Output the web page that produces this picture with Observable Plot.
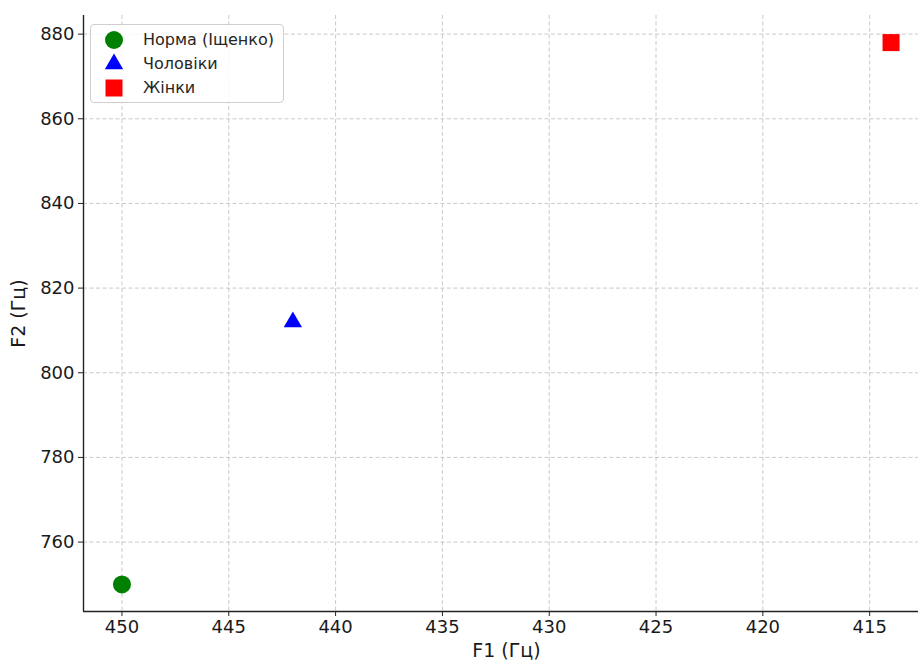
<!DOCTYPE html>
<html>
<head>
<meta charset="utf-8">
<script src="https://cdn.jsdelivr.net/npm/d3@7"></script>
<script src="https://cdn.jsdelivr.net/npm/@observablehq/plot@0.6"></script>
<style>
  html, body { margin: 0; padding: 0; background: #fff; }
  #wrap { position: relative; width: 918px; height: 661px; overflow: hidden; font-family: "DejaVu Sans", sans-serif; }
  #legend { position: absolute; left: 90px; top: 24px; width: 192px; height: 77px; border: 1px solid #cfcfcf; border-radius: 4px; background: rgba(255,255,255,0.85); }
  .row { position: absolute; left: 0; height: 24px; display: flex; align-items: center; }
  .row svg { position: absolute; left: 11px; }
  .row span { position: absolute; left: 52px; font-size: 16px; color: #262626; white-space: nowrap; line-height: 1; }
</style>
</head>
<body>
<div id="wrap"><div id="legend"></div></div>
<script>
const seriesNames = ["Норма (Іщенко)", "Чоловіки", "Жінки"];
const f1Values = [450, 442, 414];
const f2Values = [750, 812, 878];
const seriesColors = ["green", "blue", "red"];
const seriesSymbols = ["circle", "triangle", "square"];
const symbolRadius = [9, 6.8, 9.6];
const xTicks = [450, 445, 440, 435, 430, 425, 420, 415];
const yTicks = [760, 780, 800, 820, 840, 860, 880];

const data = seriesNames.map((name, i) => ({name, f1: f1Values[i], f2: f2Values[i], color: seriesColors[i], symbol: seriesSymbols[i], r: symbolRadius[i]}));

const dotMarks = data.map(d => Plot.dot([d], {x: "f1", y: "f2", fill: d.color, symbol: d.symbol, r: d.r, stroke: "none"}));

const chart = Plot.plot({
  width: 918,
  height: 661,
  marginLeft: 83,
  marginRight: -11,
  marginTop: 15,
  marginBottom: 50,
  style: {fontFamily: "DejaVu Sans, sans-serif", fontSize: "18px", color: "#1a1a1a", background: "white"},
  x: {domain: [451.8, 412.2]},
  y: {domain: [743.6, 884.4]},
  marks: [
    Plot.gridX(xTicks, {stroke: "#b0b0b0", strokeOpacity: 0.75, strokeDasharray: "4,2.5", strokeWidth: 0.9}),
    Plot.gridY(yTicks, {stroke: "#b0b0b0", strokeOpacity: 0.75, strokeDasharray: "4,2.5", strokeWidth: 0.9}),
    Plot.axisX(xTicks, {tickSize: 5, tickPadding: 4, fontSize: 18, label: null, stroke: "#222"}),
    Plot.axisY(yTicks, {tickSize: 5, tickPadding: 4, fontSize: 18, label: null, stroke: "#222"}),
    Plot.axisX({tickSize: 0, ticks: [], label: "F1 (Гц)", labelAnchor: "center", labelOffset: 45, labelArrow: "none", fontSize: 19}),
    Plot.axisY({tickSize: 0, ticks: [], label: "F2 (Гц)", labelAnchor: "center", labelOffset: 72, labelArrow: "none", fontSize: 19}),
    Plot.ruleX([451.8], {stroke: "#222", strokeWidth: 1.4}),
    Plot.ruleY([743.6], {stroke: "#222", strokeWidth: 1.4}),
    ...dotMarks
  ]
});
document.getElementById("wrap").prepend(chart);

// legend
const legend = document.getElementById("legend");
data.forEach((d, i) => {
  const row = document.createElement("div");
  row.className = "row";
  row.style.top = (3 + i * 24) + "px";
  row.style.width = "190px";
  const svg = d3.create("svg").attr("width", 24).attr("height", 24);
  svg.append("path")
    .attr("transform", "translate(12,12)")
    .attr("d", d3.symbol(d.symbol === "circle" ? d3.symbolCircle : d.symbol === "triangle" ? d3.symbolTriangle : d3.symbolSquare, Math.PI * d.r * d.r)())
    .attr("fill", d.color);
  row.appendChild(svg.node());
  const span = document.createElement("span");
  span.textContent = d.name;
  row.appendChild(span);
  legend.appendChild(row);
});
</script>
</body>
</html>
